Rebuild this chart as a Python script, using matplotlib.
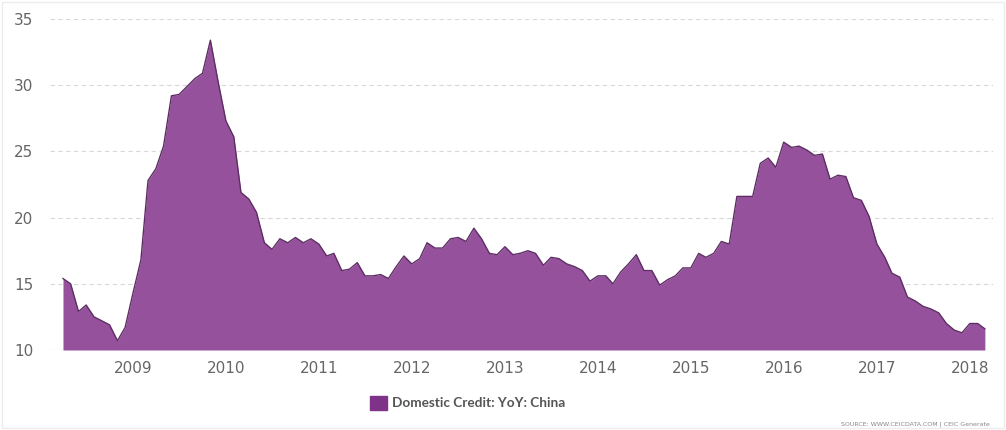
import matplotlib.pyplot as plt
import pandas as pd
from matplotlib.patches import Rectangle

# Domestic credit growth, % YoY, monthly Mar 2008 - Feb 2018
values_2008 = [15.4, 15.0, 12.9, 13.4, 12.5, 12.2, 11.9, 10.7, 11.7, 14.3]
values_2009 = [16.8, 22.8, 23.7, 25.4, 29.2, 29.3, 29.9, 30.5, 30.9, 33.4, 30.3, 27.3]
values_2010 = [26.1, 21.9, 21.4, 20.4, 18.1, 17.6, 18.4, 18.1, 18.5, 18.1, 18.4, 18.0]
values_2011 = [17.1, 17.3, 16.0, 16.1, 16.6, 15.6, 15.6, 15.7, 15.4, 16.3, 17.1, 16.5]
values_2012 = [16.9, 18.1, 17.7, 17.7, 18.4, 18.5, 18.2, 19.2, 18.4, 17.3, 17.2, 17.8]
values_2013 = [17.2, 17.3, 17.5, 17.3, 16.4, 17.0, 16.9, 16.5, 16.3, 16.0, 15.2, 15.6]
values_2014 = [15.6, 15.0, 15.9, 16.5, 17.2, 16.0, 16.0, 14.9, 15.3, 15.6, 16.2, 16.2]
values_2015 = [17.3, 17.0, 17.3, 18.2, 18.0, 21.6, 21.6, 21.6, 24.1, 24.5, 23.8, 25.7]
values_2016 = [25.3, 25.4, 25.1, 24.7, 24.8, 22.9, 23.2, 23.1, 21.5, 21.3, 20.1, 18.0]
values_2017 = [17.0, 15.8, 15.5, 14.0, 13.7, 13.3, 13.1, 12.8, 12.0, 11.5, 11.3, 12.0]
values_2018 = [12.0, 11.6]

credit_yoy = (values_2008 + values_2009 + values_2010 + values_2011 + values_2012
              + values_2013 + values_2014 + values_2015 + values_2016 + values_2017
              + values_2018)
months = pd.date_range("2008-03-31", periods=len(credit_yoy), freq="ME")

year_ticks = [pd.Timestamp(f"{y}-01-01") for y in range(2009, 2019)]
year_labels = [str(y) for y in range(2009, 2019)]
y_ticks = [10, 15, 20, 25, 30, 35]

series_name = "Domestic Credit: YoY: China"
source_note = "SOURCE: WWW.CEICDATA.COM | CEIC Generate"

fill_color = "#95519b"
edge_color = "#5d2e63"
text_color = "#666666"

plt.rcParams["font.family"] = "DejaVu Sans"

fig = plt.figure(figsize=(10.06, 4.30), dpi=100)
ax = fig.add_axes([50 / 1006, 80 / 430, 943 / 1006, 331 / 430])

ax.fill_between(months, 10, credit_yoy, color=fill_color, lw=0, zorder=2)
ax.plot(months, credit_yoy, color=edge_color, lw=1.0, zorder=3)

ax.set_ylim(10, 35)
ax.set_xlim(pd.Timestamp("2008-02-09"), pd.Timestamp("2018-04-01"))
ax.set_yticks(y_ticks)
ax.set_xticks(year_ticks)
ax.set_xticklabels(year_labels)

for y in y_ticks[1:]:
    ax.axhline(y, color="#d8d8d8", lw=0.8, ls=(0, (4, 3)), zorder=1)
ax.axhline(10, color="#e6e6e6", lw=1.0, zorder=1)

for side in ax.spines.values():
    side.set_visible(False)
ax.tick_params(axis="both", length=0, colors=text_color, labelsize=11)
ax.tick_params(axis="y", pad=12)
ax.tick_params(axis="x", pad=8)

# legend entry below the plot
fig.patches.append(Rectangle((370 / 1006, 20 / 430), 17 / 1006, 14 / 430,
                             transform=fig.transFigure, color="#7e3388"))
fig.text(392 / 1006, 27 / 430, series_name, color="#555555", fontsize=9.8,
         fontweight="bold", va="center", ha="left", family="Lato")
fig.text(990 / 1006, 6 / 430, source_note, color="#888888", fontsize=4.5,
         ha="right", va="center")

# light frame around the chart
fig.patches.append(Rectangle((2 / 1006, 2 / 430), 1002 / 1006, 426 / 430,
                             transform=fig.transFigure, fill=False,
                             edgecolor="#ececec", lw=1))

fig.savefig("out.png", dpi=100)
